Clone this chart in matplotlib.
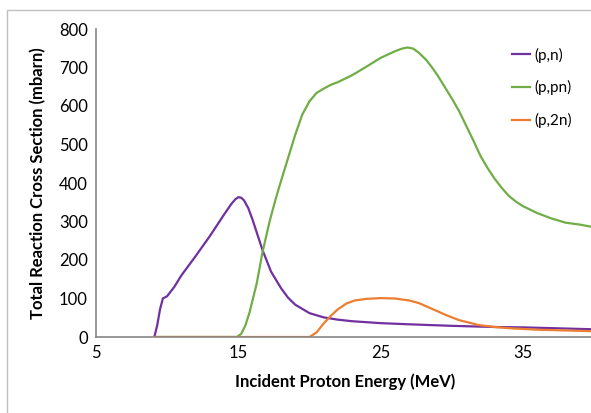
import matplotlib.pyplot as plt
from matplotlib.patches import Rectangle

plt.rcParams['font.family'] = ['Lato', 'DejaVu Sans']

# (p,n)
pn_E = [9.1, 9.3, 9.5, 9.7, 10.0, 10.5, 11, 12, 13, 14, 14.5, 14.8, 15.0, 15.2, 15.4, 15.7, 16.0,
        16.7, 17.3, 18, 18.5, 19, 20, 21, 22, 23, 25, 27, 30, 33, 35, 38, 40]
pn_sig = [0, 30, 72, 100, 106, 130, 160, 210, 262, 318, 345, 358, 363, 362, 355, 335, 305,
          226, 170, 127, 102, 84, 62, 51, 45, 41, 36, 33, 29, 26, 25, 22, 20]

# (p,pn)
ppn_E = [9.1, 14.9, 15.2, 15.5, 15.8, 16.3, 16.7, 17.2, 17.6, 18, 18.5, 19, 19.5, 20, 20.5, 21, 21.5,
         22, 23, 24, 25, 26, 26.5, 26.9, 27.3, 27.7, 28.2, 28.6, 29, 29.5, 30, 30.5, 31, 31.5, 32,
         32.5, 33, 33.5, 34, 34.5, 35, 36, 37, 38, 39, 40]
ppn_sig = [0, 0, 8, 30, 65, 140, 220, 300, 355, 405, 465, 525, 578, 612, 634, 645, 655,
           662, 680, 702, 725, 742, 749, 752, 749, 738, 720, 701, 680, 650, 620, 588, 550, 512, 472,
           440, 412, 388, 367, 352, 340, 322, 308, 297, 292, 285]

# (p,2n)
p2n_E = [9.1, 20.0, 20.5, 21, 21.5, 22, 22.6, 23.2, 24, 25, 26, 27, 27.7, 28.5, 29.6, 30.5,
         31.9, 33, 34, 35, 36, 38, 40]
p2n_sig = [0, 0, 12, 35, 55, 72, 87, 95, 99, 101, 100, 95, 88, 75, 57, 44,
           31, 26, 23, 21, 19, 17, 15]

fig = plt.figure(figsize=(5.91, 4.13), dpi=100)
ax = fig.add_axes([96/591, 76/413, 498/591, 308/413])

ax.plot(pn_E, pn_sig, color='#7030A0', lw=1.6, label='(p,n)')
ax.plot(ppn_E, ppn_sig, color='#70AD47', lw=1.6, label='(p,pn)')
ax.plot(p2n_E, p2n_sig, color='#ED7D31', lw=1.6, label='(p,2n)')

ax.set_xlim(5, 40)
ax.set_ylim(0, 800)
ax.set_xticks([5, 15, 25, 35])
ax.set_yticks(range(0, 801, 100))
ax.tick_params(length=0, labelsize=12, pad=6)
for s in ['top', 'right']:
    ax.spines[s].set_visible(False)
for s in ['left', 'bottom']:
    ax.spines[s].set_color('#868686')
    ax.spines[s].set_linewidth(1.2)

ax.set_xlabel('Incident Proton Energy (MeV)', fontsize=12, fontweight='bold', labelpad=9)
ax.set_ylabel('Total Reaction Cross Section (mbarn)', fontsize=12, fontweight='bold', labelpad=9)

leg = fig.legend(loc='upper left', bbox_to_anchor=(498/591, 1 - 34/413), frameon=False,
                 fontsize=11, labelspacing=1.15, handlelength=1.2, handletextpad=0.3)

# chart border
fig.patches.append(Rectangle((7/591, -0.05), 1.1, 1 - 10/413 + 0.05, transform=fig.transFigure,
                             fill=False, edgecolor='#BFBFBF', lw=1.0))

fig.savefig('out.png', dpi=100)
